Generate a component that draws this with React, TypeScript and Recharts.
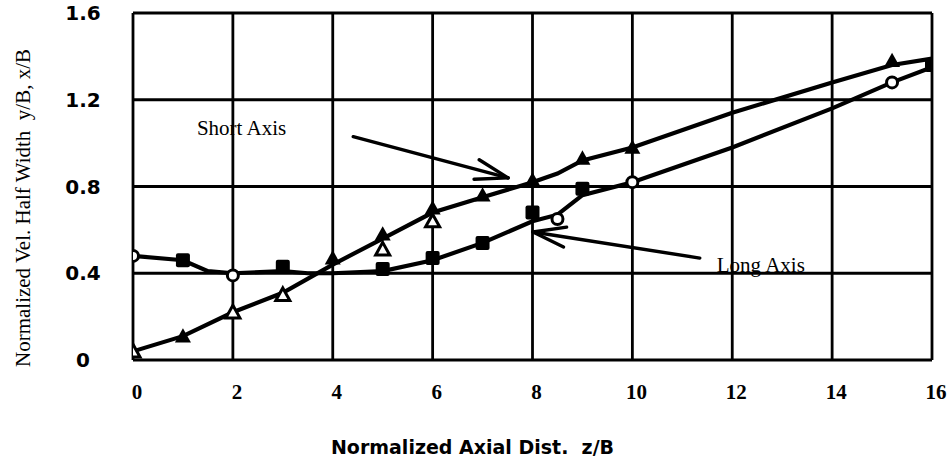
import React from 'react';
import {
  ComposedChart,
  Line,
  Scatter,
  XAxis,
  YAxis,
  CartesianGrid,
  ReferenceLine,
  ReferenceDot,
} from 'recharts';

// ---- axes ----
const xTicks = [0, 2, 4, 6, 8, 10, 12, 14, 16];
const yTicks = [0, 0.4, 0.8, 1.2, 1.6];
const yTickLabels = ['0', '0.4', '0.8', '1.2', '1.6'];
const xTitle = 'Normalized Axial Dist.  z/B';
const yTitle = 'Normalized Vel. Half Width  y/B, x/B';

// ---- curve: Short Axis ----
const shortAxisZ = [0, 1, 2, 3, 4, 5, 6, 7, 8, 8.5, 9, 10, 12, 14, 15.2, 16];
const shortAxisW = [0.04, 0.11, 0.22, 0.31, 0.44, 0.56, 0.68, 0.75, 0.82, 0.86, 0.92, 0.98, 1.14, 1.28, 1.36, 1.39];

// ---- curve: Long Axis ----
const longAxisZ = [0, 1, 1.5, 2, 3, 3.5, 4, 5, 6, 7, 8, 8.5, 9, 10, 12, 14, 15.2, 16];
const longAxisW = [0.48, 0.46, 0.41, 0.4, 0.41, 0.4, 0.4, 0.41, 0.46, 0.54, 0.64, 0.67, 0.76, 0.82, 0.98, 1.16, 1.28, 1.35];

// ---- measured markers ----
const shortTriZ = [1, 4, 5, 6, 7, 8, 9, 10, 15.2];
const shortTriW = [0.11, 0.47, 0.58, 0.7, 0.76, 0.83, 0.93, 0.98, 1.38];
const shortOpenZ = [0, 2, 3, 5, 6];
const shortOpenW = [0.04, 0.22, 0.3, 0.51, 0.64];
const longSqZ = [1, 3, 5, 6, 7, 8, 9, 16];
const longSqW = [0.46, 0.43, 0.42, 0.47, 0.54, 0.68, 0.79, 1.36];
const longOpenZ = [0, 2, 8.5, 10, 15.2];
const longOpenW = [0.48, 0.39, 0.65, 0.82, 1.28];

// ---- annotations (data coordinates) ----
const shortLabel = 'Short Axis';
const shortLabelAt = [1.28, 1.07];
const shortArrowFrom = [4.41, 1.03];
const shortArrowTo = [7.51, 0.84];
const longLabel = 'Long Axis';
const longLabelAt = [11.69, 0.44];
const longArrowFrom = [11.35, 0.47];
const longArrowTo = [8.01, 0.59];

const zip = (xs: number[], ys: number[]) => xs.map((x, i) => ({ x, y: ys[i] }));

const shortData = zip(shortAxisZ, shortAxisW);
const longData = zip(longAxisZ, longAxisW);
const shortTri = zip(shortTriZ, shortTriW);
const shortOpen = zip(shortOpenZ, shortOpenW);
const longSq = zip(longSqZ, longSqW);
const longOpen = zip(longOpenZ, longOpenW);

const INK = '#000';

const YTick = (p: any) => {
  const idx = yTicks.indexOf(p.payload.value);
  return (
    <text
      x={83}
      y={p.y}
      textAnchor="middle"
      dominantBaseline="central"
      fontFamily="DejaVu Sans"
      fontWeight="bold"
      fontSize={20}
      fill={INK}
    >
      {idx >= 0 ? yTickLabels[idx] : p.payload.value}
    </text>
  );
};

const XTick = (p: any) => (
  <text
    x={p.x + 4}
    y={392}
    textAnchor="middle"
    dominantBaseline="central"
    fontFamily="Liberation Serif"
    fontWeight="bold"
    fontSize={21}
    fill={INK}
  >
    {p.payload.value}
  </text>
);

const XTitle = (p: any) => {
  const vb = p.viewBox || { x: 133, y: 360, width: 799, height: 100 };
  return (
    <text
      x={vb.x + vb.width / 2 - 60}
      y={447}
      textAnchor="middle"
      dominantBaseline="central"
      fontFamily="DejaVu Sans"
      fontWeight="bold"
      fontSize={19}
      fill={INK}
      style={{ whiteSpace: 'pre' }}
    >
      {xTitle}
    </text>
  );
};

const YTitle = () => {
  const cx = 23;
  const cy = 208;
  return (
    <text
      x={cx}
      y={cy}
      transform={`rotate(-90 ${cx} ${cy})`}
      textAnchor="middle"
      dominantBaseline="central"
      fontFamily="Liberation Serif"
      fontSize={21}
      fill={INK}
      style={{ whiteSpace: 'pre' }}
    >
      {yTitle}
    </text>
  );
};

const Arrow = (p: any) => {
  const { x1, y1, x2, y2 } = p;
  if ([x1, y1, x2, y2].some((v) => typeof v !== 'number' || isNaN(v))) return null;
  const ang = Math.atan2(y1 - y2, x1 - x2);
  const L = 34;
  const h = 0.3;
  const bx1 = x2 + L * Math.cos(ang + h);
  const by1 = y2 + L * Math.sin(ang + h);
  const bx2 = x2 + L * Math.cos(ang - h);
  const by2 = y2 + L * Math.sin(ang - h);
  return (
    <g stroke={INK} strokeWidth={3.4} strokeLinecap="round" fill="none">
      <line x1={x1} y1={y1} x2={x2} y2={y2} />
      <line x1={x2} y1={y2} x2={bx1} y2={by1} />
      <line x1={x2} y1={y2} x2={bx2} y2={by2} />
    </g>
  );
};

const makeText = (txt: string) => (p: any) => (
  <text
    x={p.cx}
    y={p.cy}
    textAnchor="start"
    dominantBaseline="central"
    fontFamily="Liberation Serif"
    fontSize={21}
    fill={INK}
  >
    {txt}
  </text>
);

const Tri = (p: any) => {
  const { cx, cy } = p;
  const s = 8;
  return <polygon points={`${cx},${cy - s} ${cx + s},${cy + s * 0.8} ${cx - s},${cy + s * 0.8}`} fill={INK} />;
};
const OpenTri = (p: any) => {
  const { cx, cy } = p;
  const s = 7;
  return (
    <polygon
      points={`${cx},${cy - s} ${cx + s},${cy + s * 0.8} ${cx - s},${cy + s * 0.8}`}
      fill="#fff"
      stroke={INK}
      strokeWidth={3}
    />
  );
};
const Sq = (p: any) => {
  const { cx, cy } = p;
  const s = 7;
  return <rect x={cx - s} y={cy - s} width={2 * s} height={2 * s} rx={2} fill={INK} />;
};
const OpenCirc = (p: any) => {
  const { cx, cy } = p;
  return <circle cx={cx} cy={cy} r={5.5} fill="#fff" stroke={INK} strokeWidth={3} />;
};

export default function App() {
  return (
    <div style={{ position: 'absolute', left: 0, top: 0, background: '#fff' }}>
      <ComposedChart width={950} height={466} margin={{ top: 13, right: 18, bottom: 6, left: 0 }}>
        <CartesianGrid stroke={INK} strokeWidth={2.8} />
        <XAxis
          type="number"
          dataKey="x"
          domain={[0, 16]}
          ticks={xTicks}
          height={100}
          axisLine={false}
          tickLine={false}
          tick={<XTick />}
          label={<XTitle />}
          allowDataOverflow
        />
        <YAxis
          type="number"
          dataKey="y"
          domain={[0, 1.6]}
          ticks={yTicks}
          width={133}
          axisLine={false}
          tickLine={false}
          tick={<YTick />}
          label={<YTitle />}
          allowDataOverflow
        />
        <Line
          data={shortData}
          dataKey="y"
          type="linear"
          stroke={INK}
          strokeWidth={4.2}
          dot={false}
          isAnimationActive={false}
        />
        <Line
          data={longData}
          dataKey="y"
          type="linear"
          stroke={INK}
          strokeWidth={4.2}
          dot={false}
          isAnimationActive={false}
        />
        <Scatter data={shortOpen} dataKey="y" shape={<OpenTri />} isAnimationActive={false} />
        <Scatter data={shortTri} dataKey="y" shape={<Tri />} isAnimationActive={false} />
        <Scatter data={longSq} dataKey="y" shape={<Sq />} isAnimationActive={false} />
        <Scatter data={longOpen} dataKey="y" shape={<OpenCirc />} isAnimationActive={false} />
        <ReferenceLine
          segment={[
            { x: shortArrowFrom[0], y: shortArrowFrom[1] },
            { x: shortArrowTo[0], y: shortArrowTo[1] },
          ]}
          shape={Arrow}
        />
        <ReferenceLine
          segment={[
            { x: longArrowFrom[0], y: longArrowFrom[1] },
            { x: longArrowTo[0], y: longArrowTo[1] },
          ]}
          shape={Arrow}
        />
        <ReferenceDot x={shortLabelAt[0]} y={shortLabelAt[1]} r={1} shape={makeText(shortLabel)} />
        <ReferenceDot x={longLabelAt[0]} y={longLabelAt[1]} r={1} shape={makeText(longLabel)} />
      </ComposedChart>
    </div>
  );
}
